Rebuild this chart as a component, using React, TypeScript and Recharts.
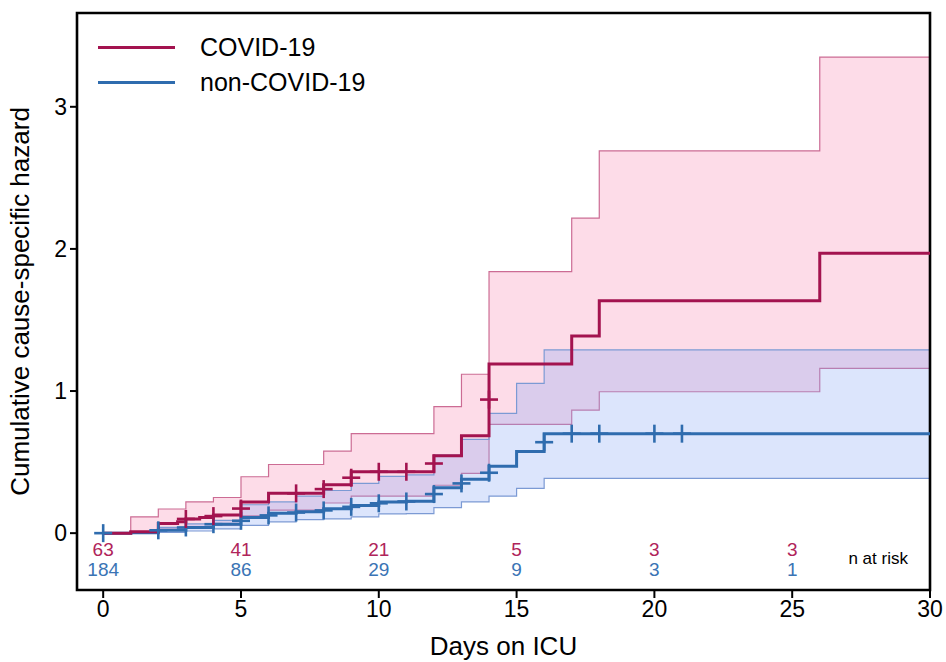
import React from 'react';
import {
  ComposedChart,
  Area,
  Line,
  Scatter,
  XAxis,
  YAxis,
  ReferenceArea,
  Legend,
} from 'recharts';

// ---- step times (days on ICU) ----
const days = [0, 1, 2, 2.7, 3, 3.5, 4, 5, 6, 7, 8, 9, 10, 11, 12, 13, 14, 15, 16, 17, 18, 26, 30];

// ---- COVID-19: cumulative cause-specific hazard + CI ----
const covidH = [0, 0.01, 0.068, 0.08, 0.1, 0.11, 0.127, 0.22, 0.28, 0.28, 0.34, 0.432, 0.432, 0.432, 0.545, 0.685, 1.19, 1.19, 1.19, 1.387, 1.636, 1.97, 1.97];
const covidUp = [0, 0.115, 0.17, 0.17, 0.22, 0.22, 0.251, 0.397, 0.483, 0.483, 0.577, 0.7, 0.7, 0.7, 0.89, 1.118, 1.84, 1.84, 1.84, 2.216, 2.69, 3.35, 3.35];
const covidLo = [0, 0.001, 0.027, 0.03, 0.045, 0.045, 0.057, 0.122, 0.162, 0.162, 0.212, 0.26, 0.26, 0.26, 0.337, 0.42, 0.765, 0.765, 0.765, 0.866, 0.995, 1.16, 1.16];

// ---- non-COVID-19 ----
const nonH = [0, 0.003, 0.02, 0.02, 0.04, 0.04, 0.063, 0.11, 0.14, 0.15, 0.172, 0.195, 0.22, 0.225, 0.32, 0.38, 0.47, 0.575, 0.7, 0.7, 0.7, 0.7, 0.7];
const nonUp = [0, 0.01, 0.04, 0.04, 0.065, 0.065, 0.09, 0.2, 0.22, 0.26, 0.3, 0.35, 0.4, 0.41, 0.55, 0.66, 0.843, 1.054, 1.289, 1.289, 1.289, 1.289, 1.289];
const nonLo = [0, 0, 0.005, 0.005, 0.015, 0.015, 0.03, 0.055, 0.08, 0.095, 0.1, 0.115, 0.135, 0.138, 0.18, 0.22, 0.26, 0.315, 0.385, 0.385, 0.385, 0.385, 0.385];

// ---- censoring marks ----
const covidCensorDays = [3, 4, 5, 7, 8, 9, 10, 11, 12, 14];
const covidCensorY = [0.1, 0.12, 0.173, 0.28, 0.31, 0.39, 0.432, 0.432, 0.49, 0.94];
const nonCensorDays = [0, 2, 3, 4, 5, 6, 7, 8, 9, 10, 11, 12, 13, 14, 16, 17, 18, 20, 21];
const nonCensorY = [0, 0.02, 0.04, 0.063, 0.087, 0.125, 0.145, 0.16, 0.185, 0.21, 0.223, 0.275, 0.35, 0.425, 0.64, 0.7, 0.7, 0.7, 0.7];

// ---- numbers at risk ----
const riskDays = [0, 5, 10, 15, 20, 25];
const riskCovid = [63, 41, 21, 5, 3, 3];
const riskNon = [184, 86, 29, 9, 3, 1];
const riskCovidRow = -0.113;
const riskNonRow = -0.254;

// ---- axes ----
const xTicks = [0, 5, 10, 15, 20, 25, 30];
const yTicks = [0, 1, 2, 3];
const xDomain = [-0.95, 30];
const yDomain = [-0.4, 3.66];

const RED = '#A3134F';
const BLUE = '#2F6CAE';
const FONT = '"Liberation Sans", Arial, Helvetica, sans-serif';

const rows = days.map((t, i) => ({
  t,
  cH: covidH[i],
  cBand: [covidLo[i], covidUp[i]],
  nH: nonH[i],
  nBand: [nonLo[i], nonUp[i]],
}));

const covidMarks = covidCensorDays.map((t, i) => ({ t, v: covidCensorY[i] }));
const nonMarks = nonCensorDays.map((t, i) => ({ t, v: nonCensorY[i] }));
const covidRisk = riskDays.map((t, i) => ({ t, v: riskCovidRow, n: riskCovid[i] }));
const nonRisk = riskDays.map((t, i) => ({ t, v: riskNonRow, n: riskNon[i] }));
const riskLabel = [{ t: 29.2, v: -0.176, n: 'n at risk' }];

const plusShape = (color: string) => (p: any) => {
  const { cx, cy } = p;
  if (cx == null || cy == null) return <g />;
  const h = 9;
  return (
    <g>
      <line x1={cx - h} y1={cy} x2={cx + h} y2={cy} stroke={color} strokeWidth={2.6} />
      <line x1={cx} y1={cy - h} x2={cx} y2={cy + h} stroke={color} strokeWidth={2.6} />
    </g>
  );
};

const textShape = (color: string, size: number, anchor: string) => (p: any) => {
  const { cx, cy, payload } = p;
  if (cx == null || cy == null) return <g />;
  return (
    <text
      x={cx}
      y={cy}
      textAnchor={anchor}
      dominantBaseline="central"
      fill={color}
      fontSize={size}
      fontFamily={FONT}
    >
      {payload.n}
    </text>
  );
};

const renderLegend = () => (
  <div style={{ fontFamily: FONT, fontSize: 25, color: '#000' }}>
    {[
      { name: 'COVID-19', color: RED },
      { name: 'non-COVID-19', color: BLUE },
    ].map((e) => (
      <div key={e.name} style={{ display: 'flex', alignItems: 'center', height: 35 }}>
        <div style={{ width: 77, height: 3, background: e.color, marginRight: 25 }} />
        <span>{e.name}</span>
      </div>
    ))}
  </div>
);

export default function App() {
  return (
    <div style={{ position: 'absolute', left: 0, top: 0, width: 946, height: 662, background: '#fff' }}>
      <ComposedChart
        width={946}
        height={662}
        data={rows}
        margin={{ top: 13, right: 16, bottom: 0, left: 0 }}
      >
        <XAxis
          type="number"
          dataKey="t"
          domain={xDomain}
          ticks={xTicks}
          allowDataOverflow
          height={72}
          axisLine={false}
          tickLine={{ stroke: '#000', strokeWidth: 2 }}
          tickSize={8}
          tickMargin={3}
          tick={{ fill: '#000', fontSize: 23, fontFamily: FONT }}
          label={{
            value: 'Days on ICU',
            position: 'insideBottom',
            offset: 7,
            style: { fill: '#000', fontSize: 26, fontFamily: FONT },
          }}
        />
        <YAxis
          type="number"
          domain={yDomain}
          ticks={yTicks}
          allowDataOverflow
          width={77}
          axisLine={false}
          tickLine={{ stroke: '#000', strokeWidth: 2 }}
          tickSize={7}
          tickMargin={3}
          tick={{ fill: '#000', fontSize: 23, fontFamily: FONT }}
          label={{
            value: 'Cumulative cause-specific hazard',
            angle: -90,
            position: 'insideLeft',
            offset: 20,
            style: { fill: '#000', fontSize: 26, fontFamily: FONT, textAnchor: 'middle' },
          }}
        />
        <Legend
          content={renderLegend}
          layout="vertical"
          align="center"
          verticalAlign="middle"
          wrapperStyle={{ position: 'absolute', left: 98, top: 30, width: 300 }}
        />
        <Area
          type="stepAfter"
          dataKey="cBand"
          fill="rgb(247,140,180)"
          fillOpacity={0.3}
          stroke="#CC6C94"
          strokeWidth={1.2}
          isAnimationActive={false}
          activeDot={false}
          dot={false}
        />
        <Area
          type="stepAfter"
          dataKey="nBand"
          fill="rgb(140,170,245)"
          fillOpacity={0.3}
          stroke="#7C9AD4"
          strokeWidth={1.2}
          isAnimationActive={false}
          activeDot={false}
          dot={false}
        />
        <Line
          type="stepAfter"
          dataKey="nH"
          stroke={BLUE}
          strokeWidth={3}
          dot={false}
          activeDot={false}
          isAnimationActive={false}
        />
        <Line
          type="stepAfter"
          dataKey="cH"
          stroke={RED}
          strokeWidth={3}
          dot={false}
          activeDot={false}
          isAnimationActive={false}
        />
        <Scatter data={nonMarks} dataKey="v" shape={plusShape(BLUE)} isAnimationActive={false} />
        <Scatter data={covidMarks} dataKey="v" shape={plusShape(RED)} isAnimationActive={false} />
        <Scatter data={covidRisk} dataKey="v" shape={textShape('#B0245A', 19, 'middle')} isAnimationActive={false} />
        <Scatter data={nonRisk} dataKey="v" shape={textShape('#3A74B5', 19, 'middle')} isAnimationActive={false} />
        <Scatter data={riskLabel} dataKey="v" shape={textShape('#000', 17, 'end')} isAnimationActive={false} />
        <ReferenceArea
          x1={xDomain[0]}
          x2={xDomain[1]}
          y1={yDomain[0]}
          y2={yDomain[1]}
          fill="none"
          stroke="#000"
          strokeWidth={2.6}
          ifOverflow="visible"
        />
      </ComposedChart>
    </div>
  );
}
